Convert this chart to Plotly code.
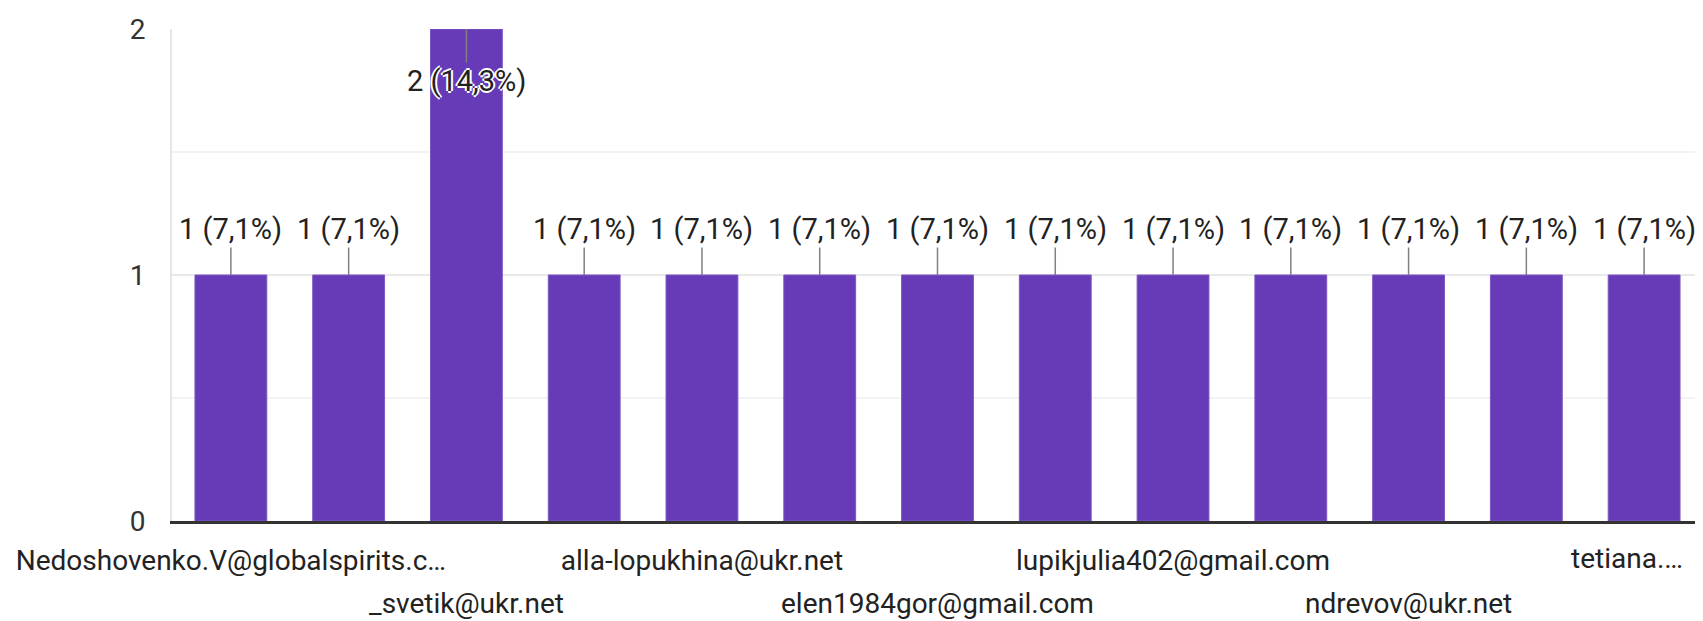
import plotly.graph_objects as go

categories = [
    "Nedoshovenko.V@globalspirits.c…",
    "(unlabelled 1)",
    "_svetik@ukr.net",
    "(unlabelled 2)",
    "alla-lopukhina@ukr.net",
    "(unlabelled 3)",
    "elen1984gor@gmail.com",
    "(unlabelled 4)",
    "lupikjulia402@gmail.com",
    "(unlabelled 5)",
    "ndrevov@ukr.net",
    "(unlabelled 6)",
    "tetiana.…",
]
values = [1, 1, 2, 1, 1, 1, 1, 1, 1, 1, 1, 1, 1]
row1_ticks = ["Nedoshovenko.V@globalspirits.c…", "alla-lopukhina@ukr.net",
              "lupikjulia402@gmail.com"]
edge_tick = "tetiana.…"
row2_ticks = ["_svetik@ukr.net", "elen1984gor@gmail.com", "ndrevov@ukr.net"]
y_ticks = [0, 1, 2]

total = sum(values)
FONT = "Roboto, Arial, sans-serif"
TXT = "#222222"
LBL = 29
TICK = 28

fig = go.Figure()
fig.add_trace(go.Bar(
    x=categories, y=values,
    marker=dict(color="#673ab7", line=dict(color="#7e57c2", width=1)),
    hoverinfo="skip",
))

annotations = []
vmax = max(values)
for c, v in zip(categories, values):
    label = f"{v} ({v / total * 100:.1f}%)".replace(".", ",")
    if v == vmax:
        annotations.append(dict(
            x=c, y=v, xref="x", yref="y", text=label,
            showarrow=True, arrowhead=0, arrowwidth=1.5, arrowcolor="#808080",
            ax=0, ay=52,
            font=dict(family=FONT, size=LBL, color=TXT,
                      shadow="2px 0 0 white, -2px 0 0 white, 0 2px 0 white, 0 -2px 0 white"),
        ))
    else:
        annotations.append(dict(
            x=c, y=v, xref="x", yref="y", text=label,
            showarrow=True, arrowhead=0, arrowwidth=1.5, arrowcolor="#808080",
            ax=0, ay=-46,
            font=dict(family=FONT, size=LBL, color=TXT),
        ))

for c in row2_ticks:
    annotations.append(dict(
        x=c, y=0, xref="x", yref="paper", yanchor="top",
        yshift=-64, text=c, showarrow=False,
        font=dict(family=FONT, size=TICK, color=TXT),
    ))

# last label is pulled inwards so it stays inside the chart
annotations.append(dict(
    x=edge_tick, y=0, xref="x", yref="paper", yanchor="top",
    yshift=-19, xshift=-17, text=edge_tick, showarrow=False,
    font=dict(family=FONT, size=TICK, color=TXT),
))

fig.update_layout(
    width=1695, height=613,
    margin=dict(l=164, r=0, t=21, b=100),
    paper_bgcolor="white", plot_bgcolor="white",
    bargap=0.39,
    showlegend=False,
    annotations=annotations,
    font=dict(family=FONT, size=TICK, color=TXT),
)
fig.update_xaxes(
    type="category",
    categoryorder="array", categoryarray=categories,
    tickmode="array", tickvals=row1_ticks, ticktext=row1_ticks,
    showgrid=False, ticks="",
    showline=True, linecolor="#333333", linewidth=3,
    tickfont=dict(family=FONT, size=TICK, color=TXT),
    ticklabelstandoff=12,
    automargin=False,
)
fig.update_yaxes(
    range=[0, 2], tickmode="array", tickvals=y_ticks,
    showgrid=True, gridcolor="#e9e9e9", gridwidth=2,
    minor=dict(dtick=0.5, showgrid=True, gridcolor="#f3f3f3", gridwidth=1.5),
    zeroline=False,
    showline=True, linecolor="#e6e6e6", linewidth=2,
    ticks="", ticklabelstandoff=19,
    tickfont=dict(family=FONT, size=TICK, color="#333333"),
    automargin=False,
)

fig.write_html("out.html")
